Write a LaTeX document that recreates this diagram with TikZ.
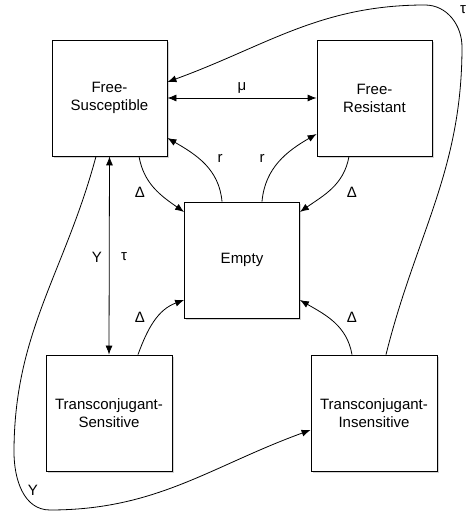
\documentclass[tikz,border=0pt]{standalone}
\usepackage{fontspec}
\setmainfont{Liberation Sans}
\usetikzlibrary{arrows.meta,shadows}
\tikzset{
  state/.style={draw,line width=0.8pt,fill=white,minimum width=115pt,minimum height=116pt,
    align=center,font=\fontsize{15}{18}\selectfont,
    drop shadow={shadow xshift=1.5pt,shadow yshift=-2.5pt,opacity=0.35}},
  wide/.style={state,minimum width=126pt},
  rate/.style={font=\fontsize{15}{18}\selectfont},
  flow/.style={line width=0.8pt,-{Latex[length=9pt,width=7pt]}}
}
\begin{document}
\begin{tikzpicture}[x=1pt,y=1pt]
  \useasboundingbox (0,0) rectangle (468,512);
  \node[state] (fs) at (109.5,414) {Free-\\Susceptible};
  \node[state] (fr) at (374.5,414) {Free-\\Resistant};
  \node[state] (empty) at (242,252) {Empty};
  \node[wide] (ts) at (109,99) {Transconjugant-\\Sensitive};
  \node[wide] (ti) at (374,99) {Transconjugant-\\Insensitive};
  \draw[flow,{Latex[length=9pt,width=7pt]}-{Latex[length=9pt,width=7pt]}] (fs.east) -- (fr.west) node[rate,midway,above=1pt] {μ};
  \draw[flow,{Latex[length=9pt,width=7pt]}-{Latex[length=9pt,width=7pt]}] (fs.south) -- (ts.north);
  \node[rate] (y1) at (97,255) {Y};
  \node[rate] (t1) at (124,255) {τ};
  \draw[flow] ([xshift=29.5pt]fs.south) to[out=-80,in=145] ([yshift=48pt]empty.west);
  \node[rate] (d1) at (140,320) {Δ};
  \draw[flow] ([xshift=-25.5pt]fr.south) to[out=-100,in=35] ([yshift=48pt]empty.east);
  \node[rate] (d2) at (352,320) {Δ};
  \draw[flow] ([xshift=-20pt]empty.north) to[out=95,in=-30] ([yshift=-40pt]fs.east);
  \node[rate] (r1) at (220,354) {r};
  \draw[flow] ([xshift=20pt]empty.north) to[out=85,in=210] ([yshift=-36pt]fr.west);
  \node[rate] (r2) at (262,354) {r};
  \draw[flow] ([xshift=29pt]ts.north) to[out=70,in=200] ([yshift=-40pt]empty.west);
  \node[rate] (d3) at (140,195) {Δ};
  \draw[flow] ([xshift=-22pt]ti.north) to[out=100,in=-30] ([yshift=-40pt]empty.east);
  \node[rate] (d4) at (352,195) {Δ};
  \draw[flow] ([xshift=12pt]ti.north) to[out=76,in=-90] (462,465) to[out=90,in=0] (425,507) to[out=180,in=20] ([yshift=16pt]fs.east);
  \node[rate] (t2) at (463,502) {τ};
  \draw[flow] ([xshift=-13.5pt]fs.south) to[out=-105,in=90] (14,60) to[out=-90,in=180] (50,2) to[out=0,in=200] ([yshift=-17pt]ti.west);
  \node[rate] (y2) at (33,22) {Y};
\end{tikzpicture}
\end{document}
